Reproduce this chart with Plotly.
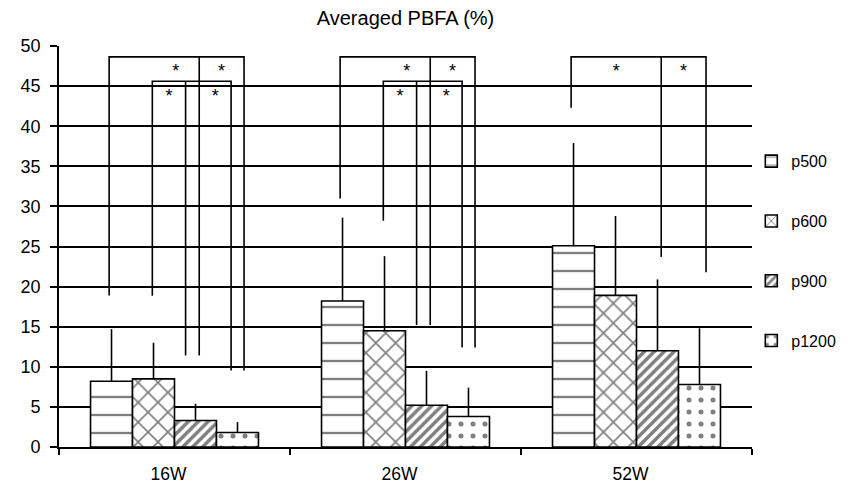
import plotly.graph_objects as go

# ---- data -------------------------------------------------------------
categories = ["16W", "26W", "52W"]
series_names = ["p500", "p600", "p900", "p1200"]

mean_p500 = [8.2, 18.2, 25.1]
mean_p600 = [8.5, 14.5, 18.9]
mean_p900 = [3.3, 5.2, 12.0]
mean_p1200 = [1.8, 3.8, 7.8]

sd_p500 = [6.5, 10.4, 12.8]
sd_p600 = [4.5, 9.3, 9.9]
sd_p900 = [2.1, 4.3, 8.9]
sd_p1200 = [1.3, 3.6, 7.0]

# significance brackets: top level and where each leg stops (None = no bracket)
outer_top = [48.65, 48.65, 48.65]
outer_left_end = [18.9, 31.0, 42.3]
outer_mid_end = [11.4, 15.2, 23.7]
outer_right_end = [9.55, 12.4, 21.8]

inner_top = [45.6, 45.6, None]
inner_left_end = [18.85, 28.2, None]
inner_mid_end = [11.4, 15.2, None]
inner_right_end = [9.55, 12.4, None]

y_ticks = list(range(0, 55, 5))

# ---- styling ------------------------------------------------------------
FONT = "Liberation Sans, Arial, sans-serif"
INK = "black"
patterns = [
    dict(shape="-", size=18, solidity=0.13),
    dict(shape="x", size=14, solidity=0.22),
    dict(shape="/", size=7, solidity=0.5),
    dict(shape=".", size=12, solidity=0.14),
]
# leg offsets (in category units, relative to the group centre)
OUTER_LEGS = (-0.283, 0.107, 0.301)
INNER_LEGS = (-0.096, 0.048, 0.245)
STAR_DROP = 2.0

means = [mean_p500, mean_p600, mean_p900, mean_p1200]
sds = [sd_p500, sd_p600, sd_p900, sd_p1200]
xpos = list(range(len(categories)))

fig = go.Figure()

for name, m, s, pat in zip(series_names, means, sds, patterns):
    fig.add_trace(go.Bar(
        x=xpos, y=m, name=name, legendgroup=name,
        marker=dict(color="white", line=dict(color=INK, width=1.6),
                    pattern=dict(fgcolor=INK, bgcolor="white", **pat)),
        error_y=dict(type="data", symmetric=False, array=s,
                     arrayminus=[0] * len(s), color=INK, thickness=1.6, width=0),
    ))

# bracket lines
bx, by = [], []
star_x, star_y = [], []
for g in xpos:
    lo, mo, ro = (g + o for o in OUTER_LEGS)
    top = outer_top[g]
    bx += [lo, lo, ro, ro, None, mo, mo, None]
    by += [outer_left_end[g], top, top, outer_right_end[g], None,
           top, outer_mid_end[g], None]
    left_bound = lo
    if inner_top[g] is not None:
        li, mi, ri = (g + o for o in INNER_LEGS)
        itop = inner_top[g]
        bx += [li, li, ri, ri, None, mi, mi, None]
        by += [inner_left_end[g], itop, itop, inner_right_end[g], None,
               itop, inner_mid_end[g], None]
        left_bound = li
        star_x += [(li + mi) / 2, (mo + ri) / 2]
        star_y += [itop - STAR_DROP, itop - STAR_DROP]
    star_x += [(left_bound + mo) / 2, (mo + ro) / 2]
    star_y += [top - STAR_DROP, top - STAR_DROP]

fig.add_trace(go.Scatter(
    x=bx, y=by, mode="lines", line=dict(color=INK, width=1.6),
    showlegend=False, hoverinfo="skip", connectgaps=False,
))
fig.add_trace(go.Scatter(
    x=star_x, y=star_y, mode="text", text=["*"] * len(star_x),
    textfont=dict(family=FONT, size=18, color=INK),
    showlegend=False, hoverinfo="skip",
))

fig.update_layout(
    width=848, height=486,
    margin=dict(l=59, r=95.5, t=45.5, b=38.5, autoexpand=False),
    paper_bgcolor="white", plot_bgcolor="white",
    font=dict(family=FONT, size=16, color=INK),
    barmode="group", bargap=0.273, bargroupgap=0,
    title=dict(text="Averaged PBFA (%)", x=0.5, xref="paper", xanchor="center",
               y=1 - 18 / 486, yref="container", yanchor="middle",
               font=dict(family=FONT, size=20, color=INK)),
    legend=dict(x=0.999, xanchor="left", y=0.755, yanchor="top",
                traceorder="grouped", tracegroupgap=36,
                font=dict(family=FONT, size=16, color=INK),
                bgcolor="rgba(0,0,0,0)"),
    showlegend=True,
)

fig.update_xaxes(
    range=[-0.5, 2.5], tickmode="array", tickvals=xpos, ticktext=categories,
    ticks="", showgrid=False, zeroline=False, automargin=False,
    showline=True, linecolor=INK, linewidth=1.6,
    minor=dict(tickmode="array", tickvals=[-0.5, 0.5, 1.5, 2.5],
               ticks="outside", ticklen=6, tickwidth=1.6, tickcolor=INK,
               showgrid=False),
    ticklabelshift=-6, ticklabelstandoff=10,
    tickfont=dict(family=FONT, size=17.5, color=INK),
)
fig.update_yaxes(
    range=[0, 50], tickmode="array", tickvals=y_ticks,
    ticks="outside", ticklen=7, tickwidth=1.6, tickcolor=INK,
    showgrid=True, gridcolor=INK, gridwidth=1.6, zeroline=False,
    showline=True, linecolor=INK, linewidth=1.6, automargin=False,
    ticklabelstandoff=6,
    tickfont=dict(family=FONT, size=18, color=INK),
)

fig.write_html("out.html")
